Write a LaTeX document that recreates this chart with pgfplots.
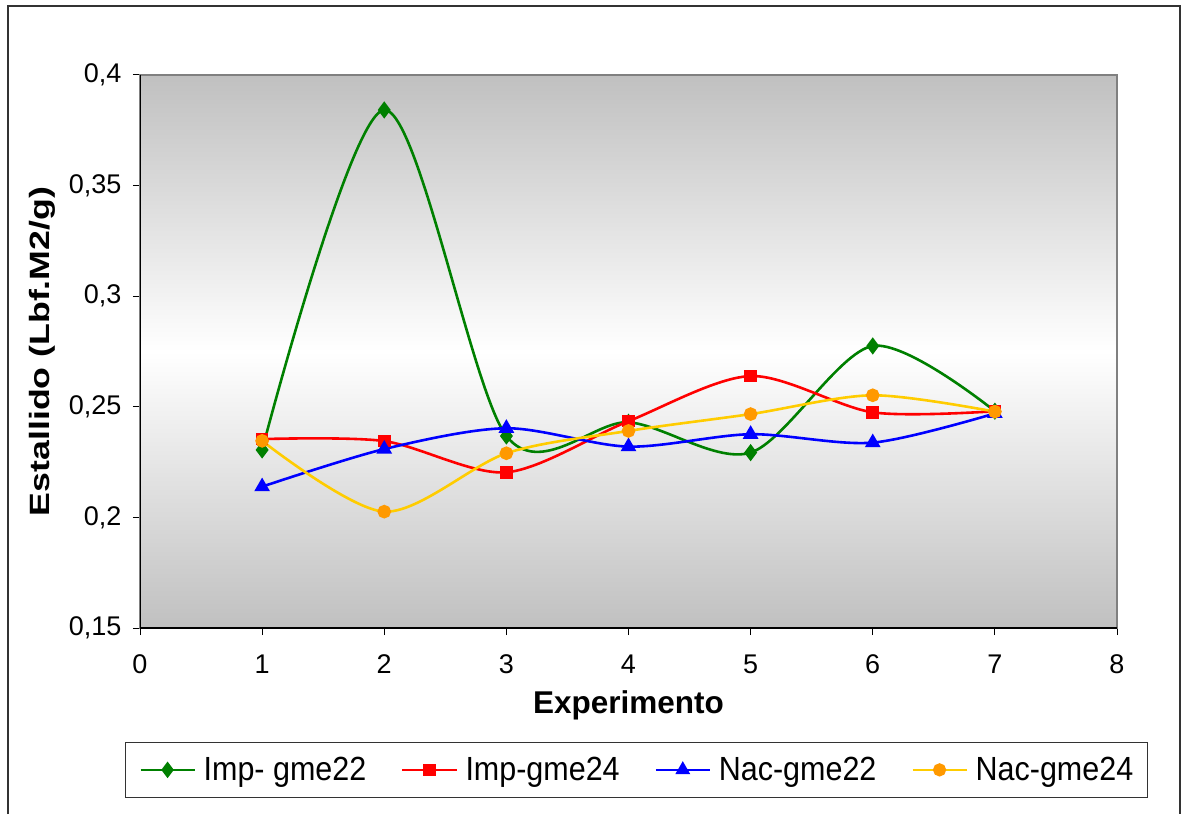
\documentclass[border=0pt]{standalone}
\usepackage{fontspec}
\setmainfont{Liberation Sans}
\usepackage{pgfplots}
\pgfplotsset{compat=1.18}
\definecolor{cgreen}{HTML}{008000}
\definecolor{cred}{HTML}{FF0000}
\definecolor{cblue}{HTML}{0000FF}
\definecolor{cyel}{HTML}{FFCC00}
\definecolor{corange}{HTML}{FF9900}
\definecolor{bg}{HTML}{C0C0C0}
\newcommand{\legtxt}[1]{\scalebox{0.91}[1]{#1}}
\begin{document}
\begin{tikzpicture}
\useasboundingbox (0,0) rectangle (1185pt,814pt);
\fill[white] (0,0) rectangle (1185pt,814pt);
\draw[line width=1.5pt, black!80] (8pt,0pt) -- (8pt,808pt) -- (1180pt,808pt) -- (1180pt,0pt);
\begin{axis}[
  at={(140pt,186pt)}, anchor=south west,
  width=977pt, height=553pt, scale only axis,
  xmin=0, xmax=8, ymin=0.15, ymax=0.4,
  xtick={0,1,...,8},
  ytick={0.15,0.2,0.25,0.3,0.35,0.4},
  tick align=outside, xtick pos=left, ytick pos=left,
  major tick length=7pt,
  tick style={black, line width=1pt},
  axis line style={draw=gray, line width=1.2pt},
  axis background/.style={shade, top color=bg, bottom color=bg, middle color=white},
  /pgf/number format/assume math mode=true,
  yticklabel style={xshift=-8pt, /pgf/number format/.cd, use comma, fixed, precision=2},
  ticklabel style={font=\fontsize{27}{32}\selectfont},
  xticklabel style={yshift=-16pt},
  xlabel={\textbf{Experimento}},
  ylabel={\scalebox{1.19}[0.93]{\textbf{Estallido (Lbf.M2/g)}}},
  xlabel style={font=\fontsize{31.5}{36}\selectfont, yshift=-10pt},
  ylabel style={font=\fontsize{30}{36}\selectfont, yshift=7pt},
  legend columns=4,
  legend style={at={(-0.0154,-0.206)}, anchor=north west,
    draw=black!80, line width=1pt, inner xsep=14pt, inner ysep=12pt,
    font=\fontsize{33.5}{38}\selectfont,
    nodes={inner xsep=0pt, inner ysep=3pt},
    /tikz/every odd column/.append style={column sep=8pt},
    /tikz/every even column/.append style={column sep=35pt}},
  legend cell align=left,
  legend image code/.code={\draw[#1, line width=2.2pt, mark repeat=2, mark phase=2] plot coordinates {(0pt,0pt) (27pt,0pt) (54pt,0pt)};},
  every axis plot/.append style={smooth, line width=2.6pt, mark options={solid}},
]
\addplot[color=cgreen, mark=diamond*, mark size=6.5pt, mark options={fill=cgreen, draw=cgreen}] coordinates {
(1,0.2305) (2,0.3842) (3,0.2368) (4,0.243) (5,0.2293) (6,0.2775) (7,0.248)};
\addlegendentry{\legtxt{Imp- gme22}}
\addplot[color=cred, mark=square*, mark size=5pt, mark options={fill=cred, draw=cred}] coordinates {
(1,0.2354) (2,0.2345) (3,0.2204) (4,0.2435) (5,0.2639) (6,0.2475) (7,0.248)};
\addlegendentry{\legtxt{Imp-gme24}}
\addplot[color=cblue, mark=triangle*, mark size=6.5pt, mark options={fill=cblue, draw=cblue}] coordinates {
(1,0.2139) (2,0.2309) (3,0.2403) (4,0.232) (5,0.2376) (6,0.2338) (7,0.247)};
\addlegendentry{\legtxt{Nac-gme22}}
\addplot[color=cyel, mark=*, mark size=5.5pt, mark options={fill=corange, draw=corange}] coordinates {
(1,0.2346) (2,0.2026) (3,0.229) (4,0.2391) (5,0.2467) (6,0.2552) (7,0.2478)};
\addlegendentry{\legtxt{Nac-gme24}}
\draw[black, line width=1.2pt] (rel axis cs:0,1) -- (rel axis cs:0,0) -- (rel axis cs:1,0);
\end{axis}
\end{tikzpicture}
\end{document}
